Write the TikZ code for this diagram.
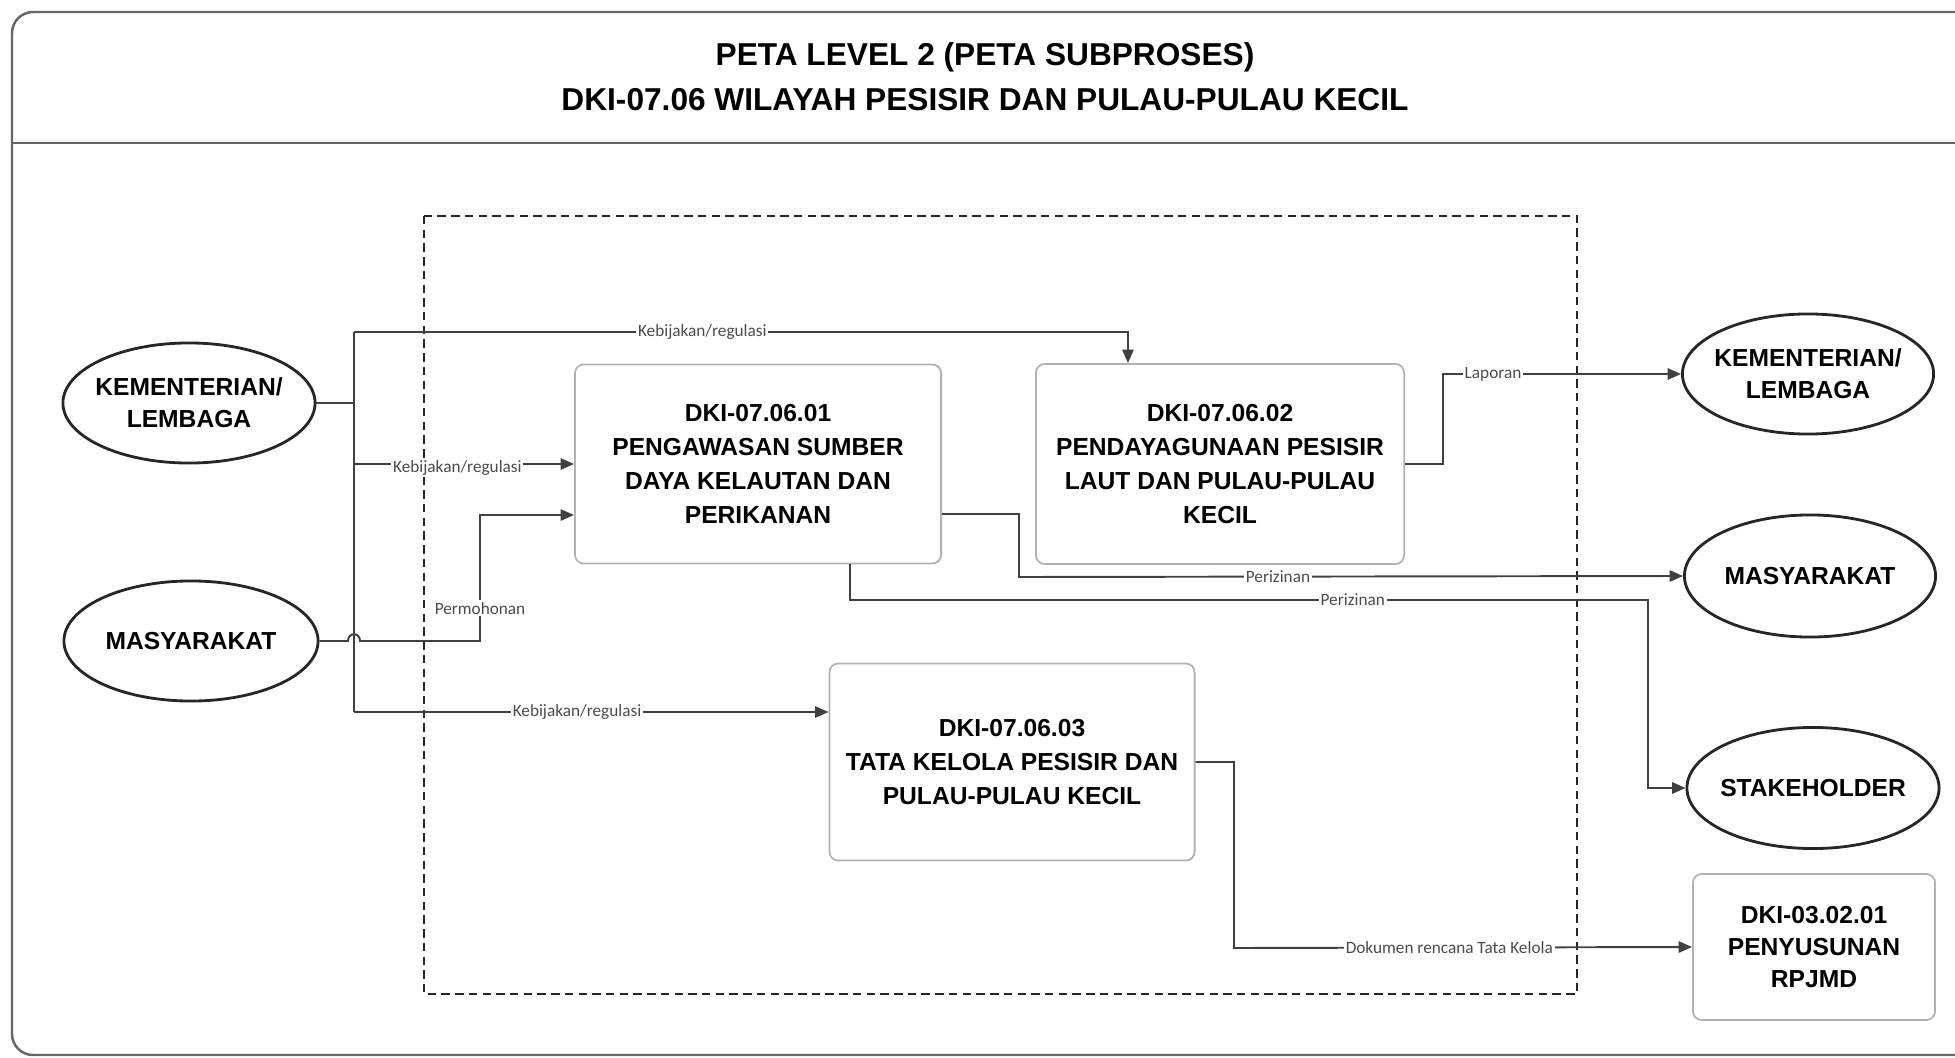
\documentclass[tikz,border=0pt]{standalone}
\usepackage{fontspec}
\setmainfont{Liberation Sans}
\newfontfamily\lblfont{Carlito}
\usetikzlibrary{arrows.meta,shapes.geometric}

\begin{document}
\begin{tikzpicture}[x=0.01cm,y=-0.01cm,>={Triangle[length=3.8pt,width=3.2pt]},
  conn/.style={draw=black!75,line width=0.55pt},
  proc/.style={draw=black!30,line width=0.5pt,rounded corners=2.5pt,fill=white,align=center,inner sep=0pt,font=\bfseries\fontsize{7}{9.6}\selectfont},
  actor/.style={ellipse,draw=black!85,line width=0.8pt,align=center,inner ysep=0pt,inner xsep=-3mm,font=\bfseries\fontsize{7}{9.2}\selectfont},
  lbl/.style={fill=white,inner sep=0.5pt,text=black!70,font=\lblfont\fontsize{4.9}{5.5}\selectfont},
  title/.style={font=\bfseries\fontsize{9}{11}\selectfont}]
\useasboundingbox (0,0) rectangle (1955,1058);
% frame
\draw[black!60,line width=0.7pt,rounded corners=6pt] (1955,12) -- (12,12) -- (12,1055) -- (1955,1055);
\draw[black!60,line width=0.7pt] (12,143) -- (1955,143);
\node[title] (ttl1) at (985,57) {PETA LEVEL 2 (PETA SUBPROSES)};
\node[title] (ttl2) at (985,100) {DKI-07.06 WILAYAH PESISIR DAN PULAU-PULAU KECIL};
% boundary of the subprocess
\draw[black!85,line width=0.6pt,dash pattern=on 2.4pt off 1.5pt] (424,216) rectangle (1577,994);

% actors and subprocesses
\node[actor,minimum width=2.52cm,minimum height=1.2cm] (klL) at (189,403) {KEMENTERIAN/\\LEMBAGA};
\node[actor,minimum width=2.54cm,minimum height=1.2cm] (msL) at (191,641) {MASYARAKAT};
\node[proc,minimum width=3.66cm,minimum height=1.99cm] (p1) at (758,464) {DKI-07.06.01\\PENGAWASAN SUMBER\\DAYA KELAUTAN DAN\\PERIKANAN};
\node[proc,minimum width=3.68cm,minimum height=2cm] (p2) at (1220,464) {DKI-07.06.02\\PENDAYAGUNAAN PESISIR\\LAUT DAN PULAU-PULAU\\KECIL};
\node[proc,minimum width=3.65cm,minimum height=1.97cm] (p3) at (1012,762) {DKI-07.06.03\\TATA KELOLA PESISIR DAN\\PULAU-PULAU KECIL};
\node[actor,minimum width=2.51cm,minimum height=1.2cm] (klR) at (1808,374) {KEMENTERIAN/\\LEMBAGA};
\node[actor,minimum width=2.51cm,minimum height=1.22cm] (msR) at (1810,576) {MASYARAKAT};
\node[actor,minimum width=2.52cm,minimum height=1.21cm] (sh) at (1813,788) {STAKEHOLDER};
\node[proc,minimum width=2.42cm,minimum height=1.46cm,font=\bfseries\fontsize{7}{9.2}\selectfont] (rp) at (1814,947) {DKI-03.02.01\\PENYUSUNAN\\RPJMD};

% connectors
\coordinate (busT) at (354,332);
\coordinate (busB) at (354,712);
\coordinate (hopL) at (348,641);
\coordinate (hopR) at (360,641);
\coordinate (pm) at (480,515);
\coordinate (pz1) at (1019,577);
\coordinate (pz2) at (1648,600);
\coordinate (lp) at (1443,374);
\coordinate (dk) at (1234,948);
\draw[conn] (klL.east) -- (klL.east -| busT);
\draw[conn] (busT) -- (busB);
\draw[conn,->] (busT) -| node[lbl,pos=0.225] (kb1) {Kebijakan/regulasi} ([xshift=-0.92cm]p2.north);
\draw[conn,->] (busT |- p1.west) -- node[lbl,pos=0.47,yshift=-1.2pt] (kb2) {Kebijakan/regulasi} (p1.west);
\draw[conn,->] (msL.east) -- (hopL) .. controls +(0,-9) and +(0,-9) .. (hopR) -| node[lbl,pos=0.63] (pmh) {Permohonan} (pm) -- (pm -| p1.west);
\draw[conn,->] (busB) -- node[lbl,pos=0.47] (kb3) {Kebijakan/regulasi} (busB -| p3.west);
\draw[conn,->] ([yshift=-0.5cm]p1.east) -| (pz1) -- node[lbl,pos=0.39] (pz1l) {Perizinan} (msR.west);
\draw[conn,->] ([xshift=0.92cm]p1.south) |- node[lbl,pos=0.815] (pz2l) {Perizinan} (pz2) |- (sh.west);
\draw[conn,->] (p2.east) -| (lp) -- node[lbl,pos=0.21] (lpl) {Laporan} (klR.west);
\draw[conn,->] (p3.east) -| (dk) -- node[lbl,pos=0.47] (dkl) {Dokumen rencana Tata Kelola} (rp.west);
\end{tikzpicture}
\end{document}
